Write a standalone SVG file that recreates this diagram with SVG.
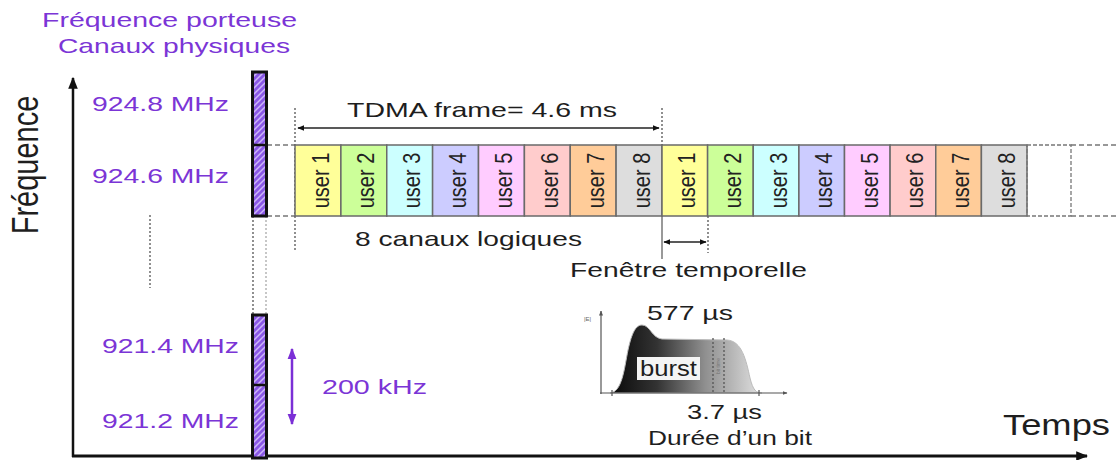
<svg xmlns="http://www.w3.org/2000/svg" width="1119" height="460" viewBox="0 0 1119 460">
<style>
.t{font-family:"Liberation Sans",Arial,sans-serif;fill:#1e1e1e}
.p{font-family:"Liberation Sans",Arial,sans-serif;fill:#7b35d6}
.u{font-family:"Liberation Sans",Arial,sans-serif;fill:#222;font-size:20px;text-anchor:middle}
.slot{stroke:#6a6a6a;stroke-width:1.5}
.dot{stroke:#555;stroke-width:1.3;stroke-dasharray:2 2;fill:none}
.dotl{stroke:#aaa;stroke-width:1.3;stroke-dasharray:2 2;fill:none}
.dash{stroke:#777;stroke-width:1.3;stroke-dasharray:5 3;fill:none}
.bar{fill:url(#hatch);stroke:#111;stroke-width:3}
</style>
<defs>
<pattern id="hatch" patternUnits="userSpaceOnUse" width="6" height="6">
<rect width="6" height="6" fill="#8a58e6"/>
<path d="M-1,1 l2,-2 M0,6 l6,-6 M5,7 l2,-2" stroke="#cdb6fa" stroke-width="1.5"/>
</pattern>
<marker id="ak" viewBox="0 0 10 10" refX="9" refY="5" markerWidth="7" markerHeight="7" orient="auto-start-reverse" markerUnits="userSpaceOnUse">
<path d="M0,1 L10,5 L0,9 Z" fill="#111"/>
</marker>
<marker id="ak2" viewBox="0 0 10 10" refX="9" refY="5" markerWidth="12" markerHeight="12" orient="auto-start-reverse" markerUnits="userSpaceOnUse">
<path d="M0,1 L10,5 L0,9 Z" fill="#111"/>
</marker>
<marker id="ap" viewBox="0 0 10 10" refX="9" refY="5" markerWidth="11" markerHeight="11" orient="auto-start-reverse" markerUnits="userSpaceOnUse">
<path d="M0,1 L10,5 L0,9 Z" fill="#7b2fd6"/>
</marker>
<marker id="as" viewBox="0 0 10 10" refX="9" refY="5" markerWidth="5" markerHeight="5" orient="auto-start-reverse" markerUnits="userSpaceOnUse">
<path d="M0,1 L10,5 L0,9 Z" fill="#555"/>
</marker>
<linearGradient id="bg" x1="612" y1="0" x2="762" y2="0" gradientUnits="userSpaceOnUse">
<stop offset="0" stop-color="#0a0a0a"/>
<stop offset="0.3" stop-color="#333"/>
<stop offset="0.62" stop-color="#8f8f8f"/>
<stop offset="1" stop-color="#e2e2e2"/>
</linearGradient>
</defs>

<rect width="1119" height="460" fill="#fff"/>

<g id="titles">
<text class="p" x="42" y="27" font-size="21" textLength="255" lengthAdjust="spacingAndGlyphs">Fréquence porteuse</text>
<text class="p" x="58" y="53" font-size="21" textLength="232" lengthAdjust="spacingAndGlyphs">Canaux physiques</text>
<text class="t" font-size="29" text-anchor="middle" transform="translate(38,165) rotate(-90) scale(1,1.25)">Fréquence</text>
<text class="p" x="92" y="111" font-size="20" textLength="137" lengthAdjust="spacingAndGlyphs">924.8 MHz</text>
<text class="p" x="92" y="183" font-size="20" textLength="137" lengthAdjust="spacingAndGlyphs">924.6 MHz</text>
<text class="p" x="102" y="353" font-size="20" textLength="137" lengthAdjust="spacingAndGlyphs">921.4 MHz</text>
<text class="p" x="102" y="428" font-size="20" textLength="137" lengthAdjust="spacingAndGlyphs">921.2 MHz</text>
<text class="p" x="322" y="394" font-size="21" textLength="105" lengthAdjust="spacingAndGlyphs">200 kHz</text>
<text class="t" x="1003" y="435" font-size="30" textLength="107" lengthAdjust="spacingAndGlyphs">Temps</text>
</g>

<g id="connectors">
<line x1="73" y1="457" x2="73" y2="78" stroke="#111" stroke-width="2.5" marker-end="url(#ak2)"/>
<line x1="72" y1="456" x2="1087" y2="456" stroke="#111" stroke-width="3" marker-end="url(#ak2)"/>
<line x1="150" y1="215" x2="150" y2="288" class="dot"/>
<line x1="253" y1="216" x2="253" y2="315" class="dot"/>
<line x1="266" y1="216" x2="266" y2="315" class="dotl"/>
<line x1="267" y1="145" x2="295" y2="145" class="dash"/>
<line x1="267" y1="216" x2="295" y2="216" class="dash"/>
<line x1="1071" y1="145" x2="1119" y2="145" class="dash"/>
<line x1="1071" y1="216" x2="1119" y2="216" class="dash"/>
<line x1="295" y1="108" x2="295" y2="250" class="dot"/>
<line x1="662" y1="108" x2="662" y2="145" class="dot"/>
<line x1="662" y1="216" x2="662" y2="259" stroke="#777" stroke-width="1.5"/>
<line x1="708" y1="180" x2="708" y2="253" class="dot"/>
<line x1="298" y1="128" x2="659" y2="128" stroke="#222" stroke-width="1.3" marker-start="url(#ak)" marker-end="url(#ak)"/>
<line x1="664" y1="242" x2="706" y2="242" stroke="#222" stroke-width="1.3" marker-start="url(#ak)" marker-end="url(#ak)"/>
<line x1="292" y1="349" x2="292" y2="424" stroke="#7b2fd6" stroke-width="2.5" marker-start="url(#ap)" marker-end="url(#ap)"/>
</g>

<g id="bar-top">
<rect class="bar" x="252.5" y="72" width="14" height="144"/>
<line x1="251" y1="145" x2="268" y2="145" stroke="#111" stroke-width="2.5"/>
</g>
<g id="bar-bottom">
<rect class="bar" x="252.5" y="315" width="14" height="143"/>
<line x1="251" y1="385" x2="268" y2="385" stroke="#111" stroke-width="2.5"/>
</g>

<g id="frame1">
<rect class="slot" x="295" y="145" width="45.9" height="71" fill="#ffff99"/>
<rect class="slot" x="340.9" y="145" width="45.85" height="71" fill="#ccff99"/>
<rect class="slot" x="386.75" y="145" width="45.85" height="71" fill="#ccffff"/>
<rect class="slot" x="432.6" y="145" width="45.9" height="71" fill="#ccccff"/>
<rect class="slot" x="478.5" y="145" width="45.9" height="71" fill="#ffccff"/>
<rect class="slot" x="524.4" y="145" width="45.85" height="71" fill="#ffcccc"/>
<rect class="slot" x="570.25" y="145" width="45.85" height="71" fill="#ffcc99"/>
<rect class="slot" x="616.1" y="145" width="45.9" height="71" fill="#dddddd"/>
<text class="u" transform="translate(328.5,180.5) rotate(-90) scale(1,1.18)">user 1</text>
<text class="u" transform="translate(374.3,180.5) rotate(-90) scale(1,1.18)">user 2</text>
<text class="u" transform="translate(420.2,180.5) rotate(-90) scale(1,1.18)">user 3</text>
<text class="u" transform="translate(466,180.5) rotate(-90) scale(1,1.18)">user 4</text>
<text class="u" transform="translate(511.9,180.5) rotate(-90) scale(1,1.18)">user 5</text>
<text class="u" transform="translate(557.8,180.5) rotate(-90) scale(1,1.18)">user 6</text>
<text class="u" transform="translate(603.7,180.5) rotate(-90) scale(1,1.18)">user 7</text>
<text class="u" transform="translate(649.5,180.5) rotate(-90) scale(1,1.18)">user 8</text>
</g>

<g id="frame2">
<rect class="slot" x="662" y="145" width="45.6" height="71" fill="#ffff99"/>
<rect class="slot" x="707.6" y="145" width="45.65" height="71" fill="#ccff99"/>
<rect class="slot" x="753.25" y="145" width="45.65" height="71" fill="#ccffff"/>
<rect class="slot" x="798.9" y="145" width="45.6" height="71" fill="#ccccff"/>
<rect class="slot" x="844.5" y="145" width="45.6" height="71" fill="#ffccff"/>
<rect class="slot" x="890.1" y="145" width="45.65" height="71" fill="#ffcccc"/>
<rect class="slot" x="935.75" y="145" width="45.65" height="71" fill="#ffcc99"/>
<rect class="slot" x="981.4" y="145" width="45.6" height="71" fill="#dddddd"/>
<text class="u" transform="translate(695.3,180.5) rotate(-90) scale(1,1.18)">user 1</text>
<text class="u" transform="translate(740.9,180.5) rotate(-90) scale(1,1.18)">user 2</text>
<text class="u" transform="translate(786.6,180.5) rotate(-90) scale(1,1.18)">user 3</text>
<text class="u" transform="translate(832.2,180.5) rotate(-90) scale(1,1.18)">user 4</text>
<text class="u" transform="translate(877.8,180.5) rotate(-90) scale(1,1.18)">user 5</text>
<text class="u" transform="translate(923.4,180.5) rotate(-90) scale(1,1.18)">user 6</text>
<text class="u" transform="translate(969.1,180.5) rotate(-90) scale(1,1.18)">user 7</text>
<text class="u" transform="translate(1014.7,180.5) rotate(-90) scale(1,1.18)">user 8</text>
</g>

<g id="next-slot">
<rect x="1027" y="145" width="44" height="71" fill="none" stroke="#777" stroke-width="1.3" stroke-dasharray="4 2"/>
</g>

<g id="frame-labels">
<text class="t" x="347" y="117" font-size="21" textLength="270" lengthAdjust="spacingAndGlyphs">TDMA frame= 4.6 ms</text>
<text class="t" x="355" y="246" font-size="21" textLength="227" lengthAdjust="spacingAndGlyphs">8 canaux logiques</text>
<text class="t" x="570" y="277" font-size="21" textLength="237" lengthAdjust="spacingAndGlyphs">Fenêtre temporelle</text>
</g>

<g id="burst">
<path d="M610,393 C622,392 624,370 628,350 C632,332 636,325 642,325 C650,325 652,338 662,339 L727,340 C742,341 746,360 750,378 C753,390 756,393 762,393 Z" fill="url(#bg)" stroke="#bbb" stroke-width="1"/>
<line x1="713" y1="338" x2="713" y2="393" class="dot"/>
<line x1="724" y1="338" x2="724" y2="393" class="dot"/>
<text font-family="Liberation Sans,Arial,sans-serif" font-size="5" fill="#777" text-anchor="middle" transform="translate(720,366) rotate(-90)">bit time</text>
<line x1="601" y1="394" x2="601" y2="311" stroke="#555" stroke-width="1.2" marker-end="url(#as)"/>
<line x1="600" y1="393" x2="787" y2="393" stroke="#555" stroke-width="1.2" marker-end="url(#as)"/>
<line x1="612" y1="390" x2="612" y2="396" stroke="#555" stroke-width="1.2"/>
<line x1="759" y1="390" x2="759" y2="396" stroke="#555" stroke-width="1.2"/>
<text font-family="Liberation Sans,Arial,sans-serif" font-size="6" fill="#666" x="584" y="321">|E|</text>
<rect x="637" y="357" width="63" height="23" fill="#f4f4f4"/>
<text class="t" x="640" y="376" font-size="22" textLength="57" lengthAdjust="spacingAndGlyphs">burst</text>
<text class="t" x="647" y="320" font-size="21" textLength="86" lengthAdjust="spacingAndGlyphs">577 µs</text>
<text class="t" x="687" y="419" font-size="21" textLength="75" lengthAdjust="spacingAndGlyphs">3.7 µs</text>
<text class="t" x="648" y="445" font-size="21" textLength="164" lengthAdjust="spacingAndGlyphs">Durée d’un bit</text>
</g>
</svg>
